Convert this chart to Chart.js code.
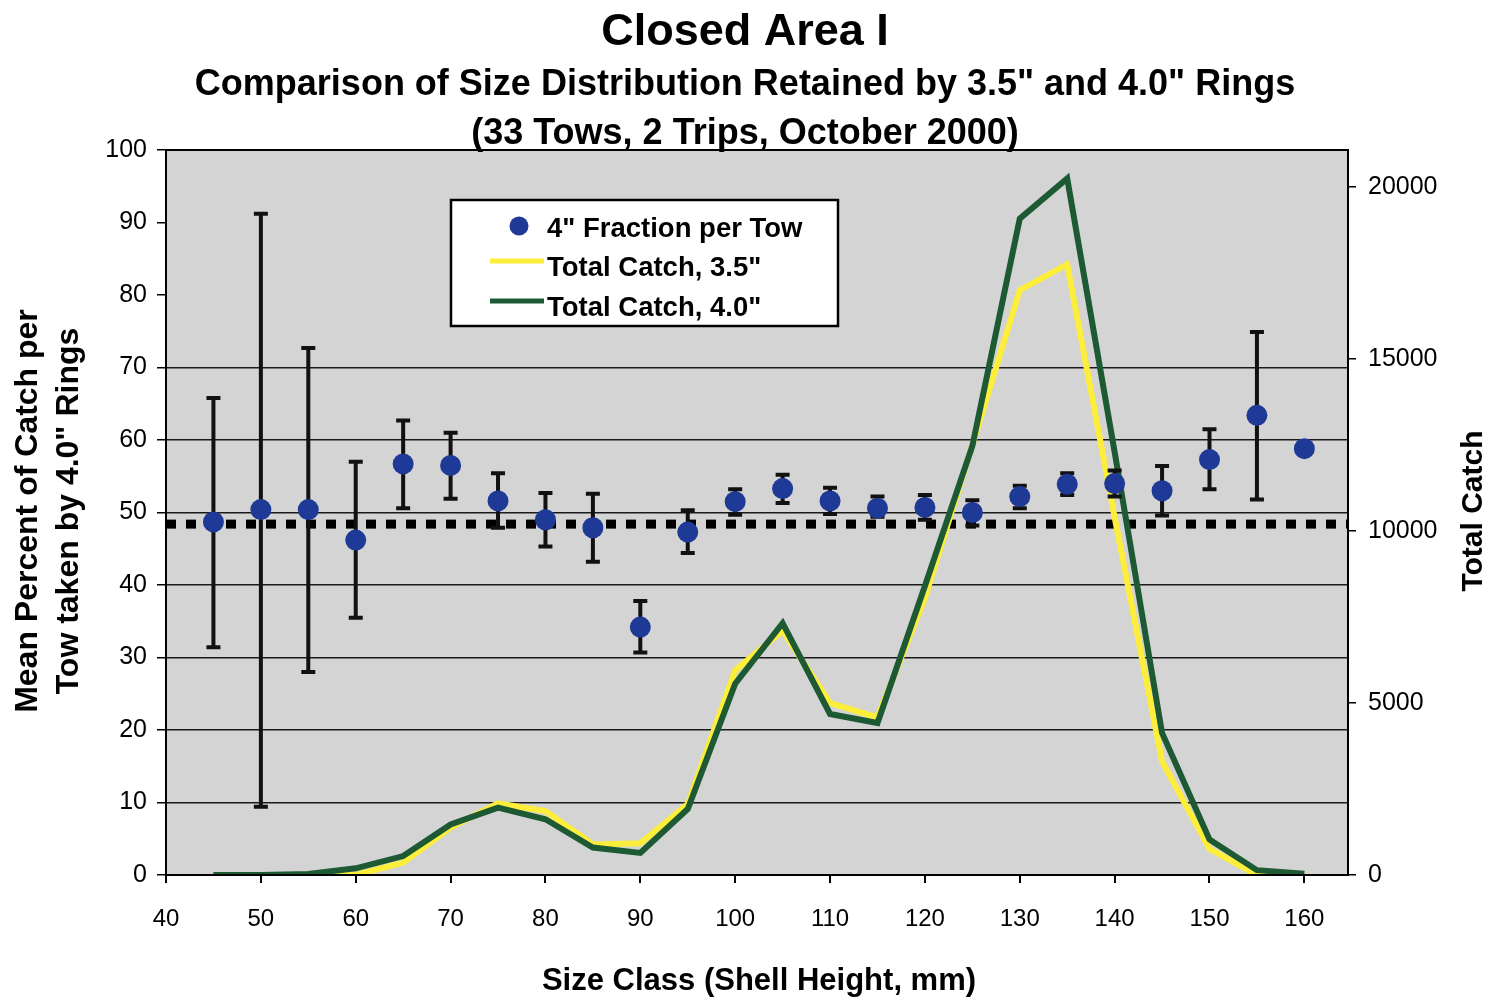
<!DOCTYPE html>
<html lang="en">

<head>
    <meta charset="UTF-8">
    <title>Closed Area I</title>
    <script src="https://cdn.jsdelivr.net/npm/chart.js"></script>
    <style>
        body { margin: 0; background: #fff; }
    </style>
</head>

<body>

    <canvas id="chart" width="1495" height="998"></canvas>

    <script>
        // Size classes (shell height, mm)
        const sizes = [45, 50, 55, 60, 65, 70, 75, 80, 85, 90, 95, 100, 105, 110, 115, 120, 125, 130, 135, 140, 145, 150, 155, 160];

        // Mean percent of catch per tow taken by 4.0" rings, with error bar ends
        const fraction4 = [48.7, 50.4, 50.4, 46.2, 56.7, 56.5, 51.6, 49.0, 47.9, 34.2, 47.3, 51.5, 53.3, 51.6, 50.6, 50.7, 50.0, 52.2, 53.9, 54.0, 53.0, 57.3, 63.4, 58.8];
        const errHigh = [65.8, 91.2, 72.7, 57.0, 62.7, 61.0, 55.4, 52.7, 52.6, 37.8, 50.3, 53.2, 55.2, 53.4, 52.2, 52.4, 51.7, 53.7, 55.4, 55.8, 56.4, 61.5, 74.9, null];
        const errLow = [31.4, 9.4, 28.0, 35.5, 50.6, 51.9, 47.9, 45.3, 43.2, 30.7, 44.4, 49.7, 51.3, 49.8, 49.4, 49.0, 48.2, 50.6, 52.4, 52.2, 49.6, 53.2, 51.8, null];

        // Total catch per size class
        const catch35 = [0, 0, 0, 0, 360, 1380, 2080, 1860, 890, 920, 2060, 5950, 7100, 5000, 4580, 8050, 12500, 17000, 17750, 10400, 3300, 760, 0, 0];
        const catch40 = [0, 0, 30, 195, 550, 1470, 1960, 1620, 800, 640, 1920, 5560, 7320, 4680, 4420, 8400, 12470, 19080, 20250, 12300, 4130, 1030, 140, 40];

        // overall mean percent (dotted line)
        const meanPercent = 48.4;

        // axis ticks
        const xTicks = [40, 50, 60, 70, 80, 90, 100, 110, 120, 130, 140, 150, 160];
        const yTicks = [0, 10, 20, 30, 40, 50, 60, 70, 80, 90, 100];
        const y2Ticks = [0, 5000, 10000, 15000, 20000];

        const FONT = '"Liberation Sans", Arial, sans-serif';
        const BLUE = '#1f3a96';
        const YELLOW = '#fcee3a';
        const GREEN = '#1d5a34';

        // grey plot area behind everything
        const plotBackground = {
            id: 'plotBackground',
            beforeDraw(chart) {
                const { ctx, chartArea: a } = chart;
                ctx.save();
                ctx.fillStyle = '#fff';
                ctx.fillRect(0, 0, chart.width, chart.height);
                ctx.fillStyle = '#d4d4d4';
                ctx.fillRect(a.left, a.top, a.right - a.left, a.bottom - a.top);
                ctx.restore();
            }
        };

        // error bars drawn just under the blue markers
        const errorBars = {
            id: 'errorBars',
            beforeDatasetDraw(chart, args) {
                if (args.index !== 0) return;
                const { ctx, scales: { x, y } } = chart;
                ctx.save();
                ctx.strokeStyle = '#111';
                ctx.lineWidth = 4;
                sizes.forEach((s, i) => {
                    if (errHigh[i] == null) return;
                    const px = x.getPixelForValue(s);
                    const top = y.getPixelForValue(errHigh[i]);
                    const bot = y.getPixelForValue(errLow[i]);
                    ctx.beginPath();
                    ctx.moveTo(px, top); ctx.lineTo(px, bot);
                    ctx.moveTo(px - 7, top); ctx.lineTo(px + 7, top);
                    ctx.moveTo(px - 7, bot); ctx.lineTo(px + 7, bot);
                    ctx.stroke();
                });
                ctx.restore();
            }
        };

        // frame, titles and legend
        const decorations = {
            id: 'decorations',
            afterDraw(chart) {
                const { ctx, chartArea: a } = chart;
                ctx.save();
                ctx.strokeStyle = '#000';
                ctx.lineWidth = 2;
                ctx.strokeRect(a.left, a.top, a.right - a.left, a.bottom - a.top);

                ctx.fillStyle = '#000';
                ctx.textAlign = 'center';
                ctx.textBaseline = 'alphabetic';
                ctx.font = 'bold 45px ' + FONT;
                ctx.fillText('Closed Area I', 745, 45);
                ctx.font = 'bold 36px ' + FONT;
                ctx.fillText('Comparison of Size Distribution Retained by 3.5" and 4.0" Rings', 745, 95);
                ctx.fillText('(33 Tows, 2 Trips, October 2000)', 745, 144);

                // x axis title
                ctx.font = 'bold 31px ' + FONT;
                ctx.fillText('Size Class (Shell Height, mm)', 759, 990);

                // left axis title, two lines
                ctx.font = 'bold 32px ' + FONT;
                ctx.save();
                ctx.translate(37, 511);
                ctx.rotate(-Math.PI / 2);
                ctx.fillText('Mean Percent of Catch per', 0, 0);
                ctx.restore();
                ctx.save();
                ctx.translate(78, 511);
                ctx.rotate(-Math.PI / 2);
                ctx.fillText('Tow taken by 4.0" Rings', 0, 0);
                ctx.restore();

                // right axis title
                ctx.font = 'bold 30px ' + FONT;
                ctx.save();
                ctx.translate(1482, 511);
                ctx.rotate(-Math.PI / 2);
                ctx.fillText('Total Catch', 0, 0);
                ctx.restore();

                // legend box
                const lx = a.left + 285, ly = a.top + 50;
                ctx.fillStyle = '#fff';
                ctx.fillRect(lx, ly, 387, 126);
                ctx.lineWidth = 2.5;
                ctx.strokeRect(lx, ly, 387, 126);

                const ds = chart.data.datasets;
                ctx.fillStyle = BLUE;
                ctx.beginPath();
                ctx.arc(lx + 68, ly + 26, 9.5, 0, Math.PI * 2);
                ctx.fill();

                ctx.lineWidth = 5;
                ctx.strokeStyle = YELLOW;
                ctx.beginPath(); ctx.moveTo(lx + 39, ly + 61); ctx.lineTo(lx + 93, ly + 61); ctx.stroke();
                ctx.strokeStyle = GREEN;
                ctx.beginPath(); ctx.moveTo(lx + 39, ly + 101); ctx.lineTo(lx + 93, ly + 101); ctx.stroke();

                ctx.fillStyle = '#000';
                ctx.textAlign = 'left';
                ctx.font = 'bold 27.5px ' + FONT;
                ctx.fillText(ds[0].label, lx + 96, ly + 37);
                ctx.fillText(ds[1].label, lx + 96, ly + 76);
                ctx.fillText(ds[2].label, lx + 96, ly + 116);
                ctx.restore();
            }
        };

        const pts = arr => sizes.map((s, i) => ({ x: s, y: arr[i] }));

        new Chart(document.getElementById('chart').getContext('2d'), {
            data: {
                datasets: [{
                    type: 'scatter',
                    label: '4" Fraction per Tow',
                    data: pts(fraction4),
                    yAxisID: 'y',
                    pointRadius: 10.5,
                    pointBackgroundColor: BLUE,
                    pointBorderWidth: 0,
                    order: 0
                }, {
                    type: 'line',
                    label: 'Total Catch, 3.5"',
                    data: pts(catch35),
                    yAxisID: 'y2',
                    borderColor: YELLOW,
                    borderWidth: 6,
                    pointRadius: 0,
                    tension: 0,
                    order: 2
                }, {
                    type: 'line',
                    label: 'Total Catch, 4.0"',
                    data: pts(catch40),
                    yAxisID: 'y2',
                    borderColor: GREEN,
                    borderWidth: 6,
                    pointRadius: 0,
                    tension: 0,
                    order: 1
                }, {
                    type: 'line',
                    label: 'Mean',
                    data: [{ x: 40, y: meanPercent }, { x: 164.6, y: meanPercent }],
                    yAxisID: 'y',
                    borderColor: '#000',
                    borderWidth: 9,
                    borderDash: [10, 10],
                    pointRadius: 0,
                    order: 3
                }]
            },
            options: {
                responsive: false,
                animation: false,
                layout: { padding: { top: 150, left: 0, right: 0, bottom: 0 } },
                plugins: {
                    legend: { display: false },
                    tooltip: { enabled: false }
                },
                scales: {
                    x: {
                        type: 'linear',
                        position: 'bottom',
                        min: 40,
                        max: 164.6,
                        afterBuildTicks: s => { s.ticks = xTicks.map(v => ({ value: v })); },
                        afterFit: s => { s.height = 123; },
                        grid: { drawOnChartArea: false, tickLength: 8, color: '#000', lineWidth: 2 },
                        border: { color: '#000', width: 2 },
                        ticks: { color: '#000', font: { family: FONT, size: 24 }, padding: 22, maxRotation: 0, callback: v => String(v) }
                    },
                    y: {
                        position: 'left',
                        min: 0,
                        max: 100,
                        afterBuildTicks: s => { s.ticks = yTicks.map(v => ({ value: v })); },
                        afterFit: s => { s.width = 166; },
                        grid: {
                            color: c => (c.tick && c.tick.value >= 10 && c.tick.value <= 70) ? '#1a1a1a' : 'rgba(0,0,0,0)',
                            tickColor: '#000',
                            lineWidth: 1.5,
                            tickLength: 9
                        },
                        border: { color: '#000', width: 2 },
                        ticks: { color: '#000', font: { family: FONT, size: 25 }, padding: 10, callback: v => String(v) }
                    },
                    y2: {
                        position: 'right',
                        min: 0,
                        max: 21076,
                        afterBuildTicks: s => { s.ticks = y2Ticks.map(v => ({ value: v })); },
                        afterFit: s => { s.width = 147; },
                        grid: { drawOnChartArea: false, tickColor: '#000', lineWidth: 1.5, tickLength: 8 },
                        border: { color: '#000', width: 2 },
                        ticks: { color: '#000', font: { family: FONT, size: 25 }, padding: 12, callback: v => String(v) }
                    }
                }
            },
            plugins: [plotBackground, errorBars, decorations]
        });
    </script>

</body>

</html>
